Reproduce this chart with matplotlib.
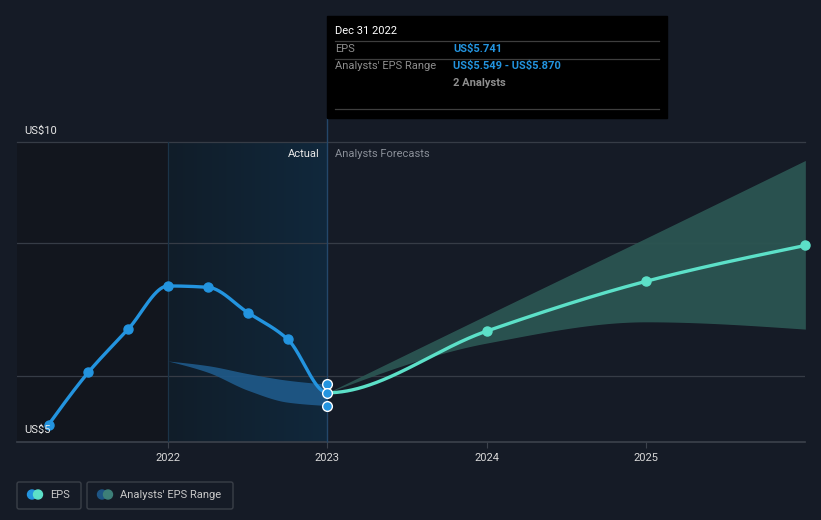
"""
EPS actual vs analysts' forecast, dark theme chart.
"""

import numpy as np
import matplotlib.pyplot as plt
from matplotlib.patches import Rectangle, FancyBboxPatch, Circle
from matplotlib.colors import LinearSegmentedColormap

# --- data (decimal years, US$) ---
actual_x = [2021.25, 2021.5, 2021.75, 2022.0, 2022.25, 2022.5, 2022.75, 2023.0]
actual_eps = [5.26, 6.05, 6.70, 7.35, 7.33, 6.95, 6.55, 5.741]

forecast_x = [2023.0, 2024.0, 2025.0, 2026.0]
forecast_eps = [5.741, 6.67, 7.42, 7.96]
forecast_low = [5.741, 6.49, 6.81, 6.70]
forecast_high = [5.741, 6.91, 8.07, 9.24]

past_range_x = [2022.0, 2022.25, 2022.5, 2022.75, 2023.0]
past_range_low = [6.22, 6.05, 5.78, 5.60, 5.549]
past_range_high = [6.22, 6.15, 6.03, 5.93, 5.870]

last_range = [5.870, 5.741, 5.549]
year_ticks = [2022, 2023, 2024, 2025]

BG = "#151b26"
BLUE = "#2394df"
TEAL = "#5ce0c8"
GRID = "#363c46"
FONT = "Roboto"


def monotone(xs, ys, n=400):
    """Monotone cubic (Fritsch-Carlson) like d3.curveMonotoneX."""
    xs = np.asarray(xs, float)
    ys = np.asarray(ys, float)
    h = np.diff(xs)
    d = np.diff(ys) / h
    m = np.zeros_like(ys)
    for i in range(1, len(xs) - 1):
        if d[i - 1] * d[i] <= 0:
            m[i] = 0.0
        else:
            w1 = 2 * h[i] + h[i - 1]
            w2 = h[i] + 2 * h[i - 1]
            m[i] = (w1 + w2) / (w1 / d[i - 1] + w2 / d[i])
    m[0] = (3 * d[0] - m[1]) / 2 if len(xs) > 2 else d[0]
    m[-1] = (3 * d[-1] - m[-2]) / 2 if len(xs) > 2 else d[-1]
    if d[0] * m[0] <= 0:
        m[0] = 0.0
    if d[-1] * m[-1] <= 0:
        m[-1] = 0.0
    xx = np.linspace(xs[0], xs[-1], n)
    idx = np.clip(np.searchsorted(xs, xx) - 1, 0, len(xs) - 2)
    t = (xx - xs[idx]) / h[idx]
    h00 = 2 * t**3 - 3 * t**2 + 1
    h10 = t**3 - 2 * t**2 + t
    h01 = -2 * t**3 + 3 * t**2
    h11 = t**3 - t**2
    yy = h00 * ys[idx] + h10 * h[idx] * m[idx] + h01 * ys[idx + 1] + h11 * h[idx] * m[idx + 1]
    return xx, yy


fig = plt.figure(figsize=(8.21, 5.20), dpi=100, facecolor=BG)

# plot area in pixels: x 17..805, y 142..442
ax = fig.add_axes([17 / 821, (520 - 442) / 520, 788 / 821, 300 / 520])
ax.set_facecolor(BG)
xmin, xmax = 2021.052, 2025.998
ymin, ymax = 5.0, 9.518
ax.set_xlim(xmin, xmax)
ax.set_ylim(ymin, ymax)
for s in ax.spines.values():
    s.set_visible(False)

# shaded past regions
ax.axvspan(xmin, 2022.0, color="#12161e", zorder=0, lw=0)
grad = np.linspace(0, 1, 256)[None, :]
cmap = LinearSegmentedColormap.from_list("act", ["#111d29", "#10283c"])
ax.imshow(grad, extent=[2022.0, 2023.0, ymin, ymax], aspect="auto", cmap=cmap,
          interpolation="bilinear", zorder=0.5)

# grid
for gy in (6, 8):
    ax.axhline(gy, color=GRID, lw=0.9, zorder=1)
ax.axhline(ymax, color=GRID, lw=0.9, zorder=1, clip_on=False)
ax.axhline(ymin, color="#3c424c", lw=1.2, zorder=1, clip_on=False)
ax.axvline(2022.0, color="#1b3448", lw=0.9, zorder=1)
ax.axvline(2023.0, color="#24476a", lw=1.0, zorder=1, ymax=(442 - 118) / 300, clip_on=False)

# bands
bx, blo = monotone(past_range_x, past_range_low)
_, bhi = monotone(past_range_x, past_range_high)
ax.fill_between(bx, blo, bhi, color="#1f5a8a", alpha=0.9, lw=0, zorder=2)

fx, flo = monotone(forecast_x, forecast_low)
_, fhi = monotone(forecast_x, forecast_high)
ax.fill_between(fx, flo, fhi, color="#2b5552", alpha=0.95, lw=0, zorder=2)

# EPS line: one smooth series, coloured by actual / forecast
all_x = actual_x + forecast_x[1:]
all_y = actual_eps + forecast_eps[1:]
sx, sy = monotone(all_x, all_y, n=1200)
past = sx <= 2023.0
ax.plot(sx[past], sy[past], color=BLUE, lw=2.4, zorder=3, solid_capstyle="round")
ax.plot(sx[~past], sy[~past], color=TEAL, lw=2.4, zorder=3, solid_capstyle="round")
ax.plot(actual_x[:-1], actual_eps[:-1], "o", color=BLUE, ms=6.5, zorder=4)
ax.plot(forecast_x[1:], forecast_eps[1:], "o", color=TEAL, ms=6.5, zorder=4, clip_on=False)
ax.plot([2023.0] * 3, last_range, "o", color=BLUE, ms=7, mec="white", mew=1.0, zorder=5)

# x ticks
ax.set_xticks(year_ticks)
ax.set_xticklabels([str(y) for y in year_ticks], color="#d8d8d8", fontsize=8, fontfamily=FONT)
ax.tick_params(axis="x", length=4, color="#3c424c", pad=4)
ax.set_yticks([])

ax.text(2023.0 - 8 / 159.3, 9.33, "Actual", ha="right", va="center", color="#e8e8e8",
        fontsize=8, fontfamily=FONT)
ax.text(2023.0 + 8 / 159.3, 9.33, "Analysts Forecasts", ha="left", va="center", color="#8a8f98",
        fontsize=8, fontfamily=FONT)

# overlay in pixel coordinates for labels, tooltip and legend
ov = fig.add_axes([0, 0, 1, 1], facecolor="none")
ov.set_xlim(0, 821)
ov.set_ylim(520, 0)
ov.axis("off")

ov.text(24, 131, "US\\$10", color="#e8e8e8", fontsize=8, fontfamily=FONT, va="center")
ov.text(24, 430, "US\\$5", color="#e8e8e8", fontsize=8, fontfamily=FONT, va="center")

ov.add_patch(Rectangle((327, 16), 340, 102, color="black", zorder=5))
for ly in (41, 59, 109):
    ov.plot([335, 659], [ly, ly], color="#3e3e3e", lw=0.9, zorder=6)
ov.text(335, 31, "Dec 31 2022", color="white", fontsize=8, fontfamily=FONT, va="center", zorder=7)
ov.text(335, 49, "EPS", color="#8e8e8e", fontsize=8, fontfamily=FONT, va="center", zorder=7)
ov.text(453, 49, "US\\$5.741", color=BLUE, fontsize=8, fontfamily=FONT, va="center",
        fontweight="bold", zorder=7)
ov.text(335, 66, "Analysts' EPS Range", color="#8e8e8e", fontsize=8, fontfamily=FONT,
        va="center", zorder=7)
ov.text(453, 66, "US\\$5.549 - US\\$5.870", color=BLUE, fontsize=8, fontfamily=FONT,
        va="center", fontweight="bold", zorder=7)
ov.text(453, 83, "2 Analysts", color="#8e8e8e", fontsize=8, fontfamily=FONT, va="center",
        fontweight="bold", zorder=7)

# legend
for x0, w in ((17, 64), (87, 146)):
    ov.add_patch(FancyBboxPatch((x0, 482), w, 27, boxstyle="round,pad=0,rounding_size=2",
                                fc="none", ec="#3a3f48", lw=1.0))
ov.add_patch(Circle((32, 494.5), 4.5, color=BLUE))
ov.add_patch(Circle((38, 494.5), 4.5, color=TEAL))
ov.text(50, 495, "EPS", color="#c8c8c8", fontsize=8, fontfamily=FONT, va="center")
ov.add_patch(Circle((102, 494.5), 4.5, color="#1e5584"))
ov.add_patch(Circle((108, 494.5), 4.5, color="#3d7f78"))
ov.text(120, 495, "Analysts' EPS Range", color="#c8c8c8", fontsize=8, fontfamily=FONT, va="center")

fig.savefig("out.png", dpi=100, facecolor=BG)
